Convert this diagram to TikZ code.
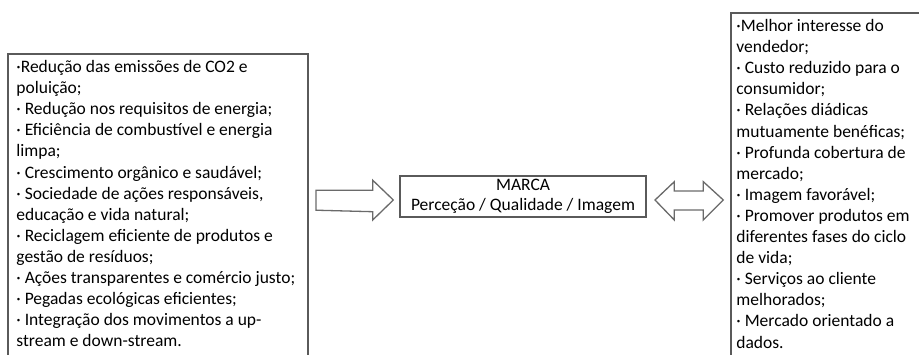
\documentclass[tikz,border=0pt]{standalone}
\usepackage{fontspec}
\setmainfont{Carlito}
\definecolor{boxgray}{HTML}{5A5A5A}
\definecolor{arrowgray}{HTML}{6A6A6A}
\begin{document}
\begin{tikzpicture}[x=0.5pt,y=-0.5pt,
  boxline/.style={draw=boxgray, line width=0.8pt},
  txt/.style={font=\fontsize{8.75pt}{10.55pt}\selectfont, inner sep=0pt, align=left, anchor=north west, text=black},
  blockarrow/.style={draw=arrowgray, line width=0.65pt, fill=white, line join=miter}]
\useasboundingbox (0,0) rectangle (919,354);
% left box (cut off at bottom)
\draw[boxline] (8,370) -- (8,54) -- (308,54) -- (308,370);
\node[txt] (left) at (16,60) {·Redução das emissões de CO2 e\\
poluição;\\
· Redução nos requisitos de energia;\\
· Eficiência de combustível e energia\\
limpa;\\
· Crescimento orgânico e saudável;\\
· Sociedade de ações responsáveis,\\
educação e vida natural;\\
· Reciclagem eficiente de produtos e\\
gestão de resíduos;\\
· Ações transparentes e comércio justo;\\
· Pegadas ecológicas eficientes;\\
· Integração dos movimentos a up-\\
stream e down-stream.};
% right box (cut off at right and bottom)
\draw[boxline] (930,13) -- (731,13) -- (731,370);
\node[txt] (right) at (736,19) {·Melhor interesse do\\
vendedor;\\
· Custo reduzido para o\\
consumidor;\\
· Relações diádicas\\
mutuamente benéficas;\\
· Profunda cobertura de\\
mercado;\\
· Imagem favorável;\\
· Promover produtos em\\
diferentes fases do ciclo\\
de vida;\\
· Serviços ao cliente\\
melhorados;\\
· Mercado orientado a\\
dados.};
% centre box
\node[boxline, minimum width=123pt, minimum height=20.5pt, inner sep=0pt, align=center,
  font=\fontsize{8.75pt}{10pt}\selectfont] (marca) at (523,196.5) {MARCA\\Perceção / Qualidade / Imagem};
% arrows
\coordinate (a1s) at (316,200);
\coordinate (a1t) at (393.3,200);
\draw[blockarrow] ([yshift=4.9pt]a1s) -- ++(56.7,0) -- ++(0,-10) -- (a1t) -- ++(-20.6,20) -- ++(0,-8.3) -- ([yshift=-5.1pt]a1s) -- cycle;
\coordinate (a2l) at (655,200);
\coordinate (a2r) at (723.3,200);
\draw[blockarrow] (a2l) -- ++(19.3,-18.3) -- ++(0,9.3) -- ++(29,0) -- ++(0,-9.3) -- (a2r) -- ++(-20,20) -- ++(0,-10) -- ++(-29,0) -- ++(0,10) -- cycle;
\end{tikzpicture}
\end{document}
